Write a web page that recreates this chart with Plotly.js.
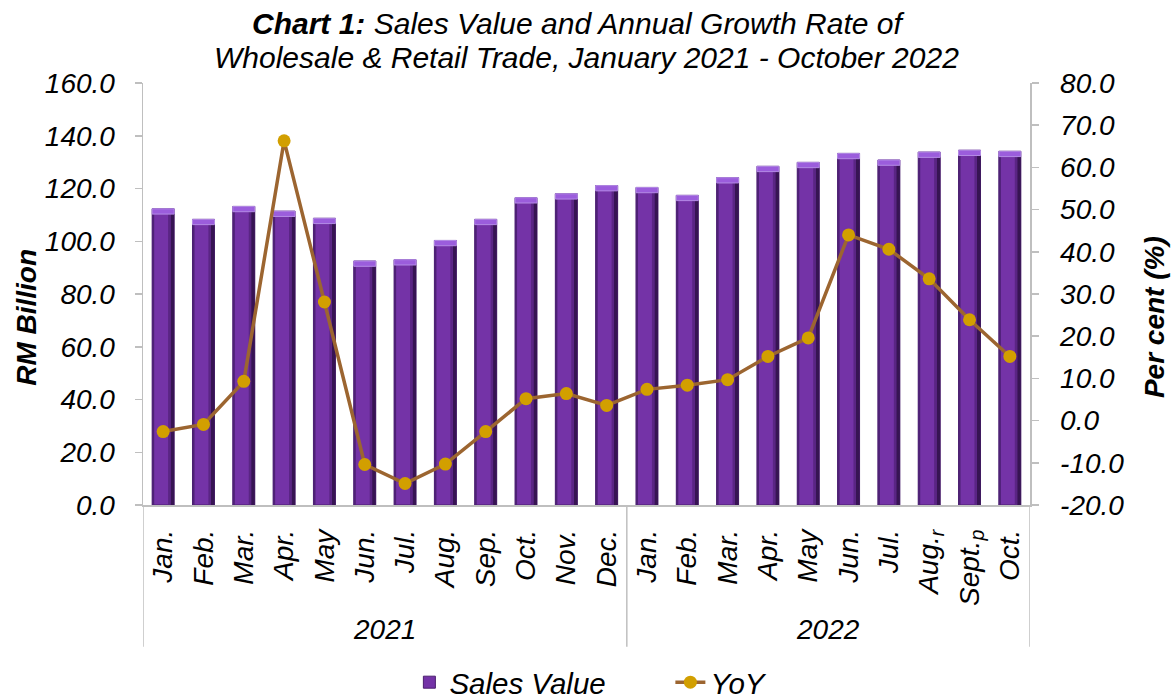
<!DOCTYPE html>
<html>
<head>
<meta charset="utf-8">
<script src="https://cdn.plot.ly/plotly-3.0.1.min.js"></script>
<style>html,body{margin:0;padding:0;background:#fff;}#chart{width:1173px;height:700px;}</style>
</head>
<body>
<div id="chart"></div>
<script>
// ---- data ----
const years = ['2021', '2022'];
const months2021 = ['Jan.', 'Feb.', 'Mar.', 'Apr.', 'May', 'Jun.', 'Jul.', 'Aug.', 'Sep.', 'Oct.', 'Nov.', 'Dec.'];
const months2022 = ['Jan.', 'Feb.', 'Mar.', 'Apr.', 'May', 'Jun.', 'Jul.', 'Aug.<sub>r</sub>', 'Sept.<sub>p</sub>', 'Oct.'];
const sales2021 = [112.3, 108.3, 113.2, 111.4, 108.7, 92.5, 93.0, 100.3, 108.3, 116.5, 118.0, 121.1];
const sales2022 = [120.4, 117.4, 124.1, 128.4, 129.9, 133.3, 130.8, 133.8, 134.5, 134.1];
const yoy2021 = [-2.6, -0.9, 9.3, 66.3, 28.1, -10.4, -14.9, -10.3, -2.6, 5.2, 6.4, 3.6];
const yoy2022 = [7.4, 8.4, 9.7, 15.2, 19.6, 44.0, 40.6, 33.6, 23.9, 15.2];
const leftTicks = [0, 20, 40, 60, 80, 100, 120, 140, 160];
const rightTicks = [-20, -10, 0, 10, 20, 30, 40, 50, 60, 70, 80];
const titleLine1 = '<b>Chart 1:</b> Sales Value and Annual Growth Rate of';
const titleLine2 = 'Wholesale &amp; Retail Trade, January 2021 - October 2022';
const leftTitle = '<b>RM Billion</b>';
const rightTitle = '<b>Per cent (%)</b>';

// ---- build ----
const labels = months2021.concat(months2022);
const sales = sales2021.concat(sales2022);
const yoy = yoy2021.concat(yoy2022);
const xs = labels.map((_, i) => i);
const n1 = months2021.length;

const FONT = 'Liberation Sans, Arial, sans-serif';
const W = 0.545;
const BEVEL = 2.0;

const traces = [
  {type: 'bar', name: 'Sales Value', x: xs, y: sales, width: W, offset: -W / 2,
   marker: {color: '#7433a7', line: {color: '#4a1f6e', width: 1}}, hoverinfo: 'skip'},
  {type: 'bar', name: 'edgeR', x: xs, y: sales, width: 0.09, offset: W / 2 - 0.09,
   marker: {color: '#371453', line: {width: 0}}, showlegend: false, hoverinfo: 'skip'},
  {type: 'bar', name: 'edgeR2', x: xs, y: sales, width: 0.06, offset: W / 2 - 0.15,
   marker: {color: '#5a2584', line: {width: 0}}, showlegend: false, hoverinfo: 'skip'},
  {type: 'bar', name: 'edgeL', x: xs, y: sales, width: 0.05, offset: -W / 2,
   marker: {color: '#4e2176', line: {width: 0}}, showlegend: false, hoverinfo: 'skip'},
  {type: 'bar', name: 'top', x: xs, y: sales.map(() => BEVEL), base: sales.map(v => v - BEVEL),
   width: W, offset: -W / 2,
   marker: {color: '#9b5ddc', line: {color: '#b48be6', width: 1}}, showlegend: false, hoverinfo: 'skip'},
  {type: 'scatter', mode: 'lines+markers', name: 'YoY', x: xs, y: yoy, yaxis: 'y2',
   line: {color: '#9c6530', width: 3.5},
   marker: {color: '#d29f00', size: 13, line: {width: 0}}, hoverinfo: 'skip'}
];

const shapes = [-0.5, n1 - 0.5, labels.length - 0.5].map(v => ({
  type: 'line', xref: 'x', yref: 'paper', x0: v, x1: v, y0: 0, y1: -0.336,
  line: {color: '#bfbfbf', width: 1.5}
}));

const titleFont = {family: FONT, size: 30, color: '#000', style: 'italic'};
const axisFont = {family: FONT, size: 28, color: '#000', style: 'italic'};

const annotations = [
  {text: titleLine1, xref: 'paper', yref: 'paper', x: 0.49, y: 1.14, xanchor: 'center', yanchor: 'middle',
   showarrow: false, font: titleFont},
  {text: titleLine2, xref: 'paper', yref: 'paper', x: 0.5, y: 1.06, xanchor: 'center', yanchor: 'middle',
   showarrow: false, font: titleFont},
  {text: leftTitle, xref: 'paper', yref: 'paper', x: -0.131, y: 0.4455, xanchor: 'center', yanchor: 'middle',
   textangle: -90, showarrow: false, font: axisFont},
  {text: rightTitle, xref: 'paper', yref: 'paper', x: 1.141, y: 0.4455, xanchor: 'center', yanchor: 'middle',
   textangle: -90, showarrow: false, font: axisFont},
  {text: years[0], xref: 'x', yref: 'paper', x: (n1 - 1) / 2, y: -0.296, xanchor: 'center', yanchor: 'middle',
   showarrow: false, font: axisFont},
  {text: years[1], xref: 'x', yref: 'paper', x: n1 + (months2022.length - 1) / 2, y: -0.296, xanchor: 'center', yanchor: 'middle',
   showarrow: false, font: axisFont}
];

const layout = {
  width: 1173, height: 700,
  margin: {l: 143, r: 143, t: 83, b: 195, pad: 0},
  paper_bgcolor: '#fff', plot_bgcolor: '#fff',
  barmode: 'overlay',
  showlegend: true,
  legend: {orientation: 'h', xref: 'container', yref: 'container', x: 0.349, xanchor: 'left',
           y: 0.025, yanchor: 'middle', entrywidth: 216, entrywidthmode: 'pixels',
           font: {family: FONT, size: 29.5, color: '#000', style: 'italic'}, itemwidth: 30,
           traceorder: 'normal', tracegroupgap: 0, borderwidth: 0, bgcolor: 'rgba(0,0,0,0)'},
  xaxis: {range: [-0.5, labels.length - 0.5], tickmode: 'array', tickvals: xs, ticktext: labels,
          tickangle: -90, ticks: '', showline: true, linecolor: '#bfbfbf', linewidth: 1.5,
          showgrid: false, zeroline: false, tickfont: axisFont, ticklabelstandoff: 12, fixedrange: true,
          automargin: false},
  yaxis: {range: [0, 160], tickmode: 'array', tickvals: leftTicks, ticktext: leftTicks.map(v => v.toFixed(1)),
          ticks: 'outside', ticklen: 7, tickcolor: '#bfbfbf',
          tickwidth: 1.5, showline: true, linecolor: '#bfbfbf', linewidth: 1.5, showgrid: false, zeroline: false,
          tickfont: axisFont, ticklabelstandoff: 14, fixedrange: true, automargin: false},
  yaxis2: {range: [-20, 80], tickmode: 'array', tickvals: rightTicks, ticktext: rightTicks.map(v => v.toFixed(1)),
           overlaying: 'y', side: 'right', ticks: 'outside',
           ticklen: 7, tickcolor: '#bfbfbf', tickwidth: 1.5, showline: true, linecolor: '#bfbfbf', linewidth: 1.5,
           showgrid: false, zeroline: false, tickfont: axisFont, ticklabelstandoff: 16, fixedrange: true,
           automargin: false},
  shapes: shapes,
  annotations: annotations
};

Plotly.newPlot('chart', traces, layout, {displayModeBar: false, staticPlot: true});
</script>
</body>
</html>
